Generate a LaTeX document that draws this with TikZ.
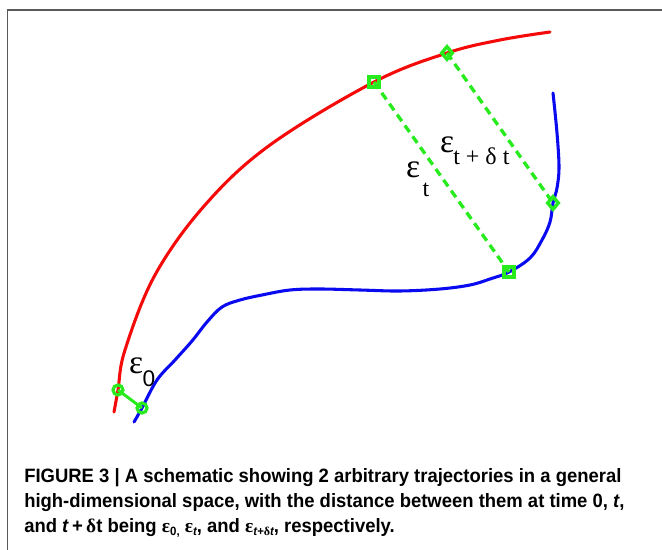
\documentclass[tikz,border=0pt]{standalone}
\usepackage{fontspec}
\setmainfont{Liberation Sans}
\newfontfamily\capfont[FakeStretch=0.955]{Liberation Sans}
\newfontfamily\serf{Liberation Serif}
\usetikzlibrary{shapes.geometric}
\definecolor{myred}{RGB}{245,10,10}
\definecolor{myblue}{RGB}{10,10,240}
\definecolor{mygreen}{RGB}{40,235,30}
\definecolor{framegray}{RGB}{90,90,90}
\tikzset{
  traj/.style={line width=2.3pt, line cap=round, line join=round},
  dashline/.style={mygreen, line width=2.5pt, dash pattern=on 6pt off 4pt},
  sqmark/.style={rectangle, draw=mygreen, line width=2.8pt, minimum size=7.5pt, inner sep=0pt},
  dimark/.style={diamond, draw=mygreen, line width=2.6pt, minimum width=9pt, minimum height=10.5pt, inner sep=0pt},
  cimark/.style={circle, draw=mygreen, line width=2.4pt, minimum size=7.5pt, inner sep=0pt},
  eps/.style={inner sep=0pt, font=\serf\fontsize{25}{27}\selectfont},
  sub/.style={inner sep=0pt, font=\serf\fontsize{18}{20}\selectfont},
  capline/.style={anchor=base west, inner sep=0pt, font=\capfont\bfseries\fontsize{14.5}{17}\selectfont}
}
\begin{document}
\begin{tikzpicture}[x=0.75pt,y=-0.75pt]
\useasboundingbox (0,0) rectangle (662,550);
\draw[framegray, line width=1.1pt] (7.5,550) -- (7.5,10) -- (662,10);

% red trajectory
\draw[traj, myred] plot[smooth, tension=0.6] coordinates {
 (114,412) (118,390) (125,350) (155,275) (205,205) (270,145) (374,82) (447,53) (500,40) (550,32)};
% blue trajectory
\draw[traj, myblue] plot[smooth, tension=0.6] coordinates {
 (134,422) (142,408) (157,380) (175,360) (192,341) (207,322) (222,307) (240,300)
 (262,295) (290,290) (320,289) (360,290) (400,291) (440,289) (470,285) (490,279)
 (509,272) (530,258) (542,240) (550,222) (553,203) (557,188) (559,167) (557,133) (553,93)};

\coordinate (r0) at (118,390);
\coordinate (b0) at (142,408);
\coordinate (rt) at (374,82);
\coordinate (bt) at (509,272);
\coordinate (rd) at (447,53);
\coordinate (bd) at (553,203);

\draw[dashline] (rt) -- (bt);
\draw[dashline] (rd) -- (bd);
\draw[mygreen, line width=2.2pt] (r0) -- (b0);

\node[sqmark] (mrt) at (rt) {};
\node[sqmark] (mbt) at (bt) {};
\node[dimark] (mrd) at (rd) {};
\node[dimark] (mbd) at (bd) {};
\node[cimark] (mr0) at (r0) {};
\node[cimark] (mb0) at (b0) {};

% labels
\node[eps] (e0) at (136,366) {ε};
\node[inner sep=0pt, font=\fontsize{17}{19}\selectfont] (e0s) at (149,379) {0};
\node[eps] (et) at (413,170) {ε};
\node[sub] (ets) at (426,190) {t};
\node[eps] (ed) at (447,145) {ε};
\node[sub, anchor=west] (eds) at (453,156) {t + δ t};

% caption
\node[capline] (c1) at (24,482) {FIGURE 3 | A schematic showing 2 arbitrary trajectories in a general};
\node[capline] (c2) at (24,507) {high-dimensional space, with the distance between them at time 0, \textit{t},};
\node[capline] (c3) at (24,532) {and \textit{t}\,+\,{\serf\bfseries δ}t being {\serf ε}\raisebox{-0.35ex}{\fontsize{9}{10}\selectfont 0,} {\serf ε}\raisebox{-0.35ex}{\fontsize{9}{10}\selectfont\itshape t}, and {\serf ε}\raisebox{-0.35ex}{\fontsize{9}{10}\selectfont\itshape t+{\serf\upshape δ}t}, respectively.};
\end{tikzpicture}
\end{document}
